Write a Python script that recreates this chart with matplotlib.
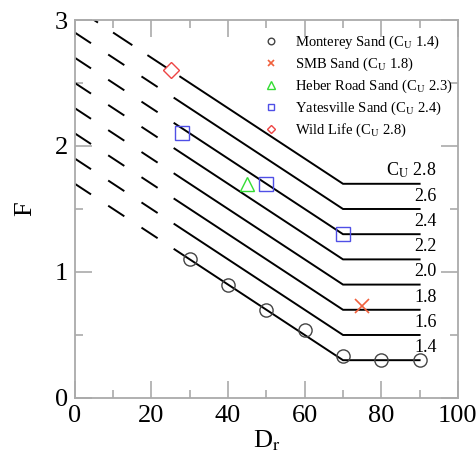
import matplotlib
matplotlib.use("Agg")
import matplotlib.pyplot as plt
import numpy as np

plt.rcParams["font.family"] = ["Liberation Serif", "DejaVu Serif"]
plt.rcParams["mathtext.fontset"] = "stix"
plt.rcParams["lines.scale_dashes"] = False

# design lines: F at Dr = 0, plateau F reached at Dr = 70, held to Dr = 90
cu_values = [1.4, 1.6, 1.8, 2.0, 2.2, 2.4, 2.6, 2.8]
f_at_zero = [1.7, 1.9, 2.1, 2.3, 2.5, 2.7, 2.9, 3.1]
f_plateau = [0.3, 0.5, 0.7, 0.9, 1.1, 1.3, 1.5, 1.7]
dr_knee = 70
dr_end = 90

# measured points
monterey_dr = [30, 40, 50, 60, 70, 80, 90]
monterey_f = [1.10, 0.90, 0.70, 0.54, 0.33, 0.30, 0.30]
smb_dr = [75]
smb_f = [0.73]
heber_dr = [45]
heber_f = [1.70]
yates_dr = [28, 50, 70]
yates_f = [2.10, 1.70, 1.30]
wild_dr = [25]
wild_f = [2.60]

# where the extrapolated (dashed) part of each line begins / turns solid
dash_from = [0, 0, 0, 0, 0, 0, 0, 1]
solid_from = [26, 26, 26, 26, 26, 26, 26, 27.5]
dash_style = [(0, (13.9, 14.8))] * 7 + [(0, (16.6, 13.0))]

fig = plt.figure(figsize=(4.77, 4.61), dpi=100)
ax = fig.add_axes([0.157, 0.1367, 0.803, 0.8199])

for i, cu in enumerate(cu_values):
    xs = [0, dr_knee, dr_end]
    ys = [f_at_zero[i], f_plateau[i], f_plateau[i]]
    x_d0, x_s0 = dash_from[i], solid_from[i]
    ax.plot([x_d0, x_s0], np.interp([x_d0, x_s0], xs, ys),
            color="black", lw=1.4, linestyle=dash_style[i], solid_capstyle="butt")
    ax.plot([x_s0, dr_knee, dr_end], [np.interp(x_s0, xs, ys), f_plateau[i], f_plateau[i]],
            color="black", lw=1.4, solid_joinstyle="miter")
    label = f"C$_\\mathrm{{U}}$ {cu:.1f}" if i == len(cu_values) - 1 else f"{cu:.1f}"
    ax.text(94.5, f_plateau[i] + 0.065, label, ha="right", va="baseline", fontsize=13)

ms = 9.5
ax.plot(monterey_dr, monterey_f, "o", ms=ms, mfc="none", mec="#444444", mew=1.0,
        label="Monterey Sand (C$_\\mathrm{U}$ 1.4)")
ax.plot(smb_dr, smb_f, "x", ms=ms, mec="#f0603c", mew=1.2,
        label="SMB Sand (C$_\\mathrm{U}$ 1.8)")
ax.plot(heber_dr, heber_f, "^", ms=ms + 1, mfc="none", mec="#33dd33", mew=1.0,
        label="Heber Road Sand (C$_\\mathrm{U}$ 2.3)")
ax.plot(yates_dr, yates_f, "s", ms=ms, mfc="none", mec="#4f4fe6", mew=1.0,
        label="Yatesville Sand (C$_\\mathrm{U}$ 2.4)")
ax.plot(wild_dr, wild_f, "D", ms=ms - 1, mfc="white", mec="#ee4444", mew=1.0,
        label="Wild Life (C$_\\mathrm{U}$ 2.8)")

ax.set_xlim(0, 100)
ax.set_ylim(0, 3)
ax.set_xticks(np.arange(0, 101, 20))
ax.set_xticks(np.arange(10, 100, 20), minor=True)
ax.set_yticks([0, 1, 2, 3])
ax.set_yticks([0.5, 1.5, 2.5], minor=True)

grey = "#aaaaaa"
for s in ax.spines.values():
    s.set_color(grey)
    s.set_linewidth(1.3)
ax.tick_params(which="both", direction="in", top=True, right=True,
               colors=grey, labelcolor="black", width=1.2)
ax.tick_params(which="major", length=12, labelsize=19, pad=5)
ax.tick_params(which="minor", length=6)

ax.set_xlabel("D$_\\mathrm{r}$", fontsize=19, labelpad=1)
ax.set_ylabel("F", fontsize=19, labelpad=13)

leg = ax.legend(loc="upper right", bbox_to_anchor=(1.013, 0.99), frameon=False,
                fontsize=10.5, markerscale=0.5, numpoints=1, handlelength=1.2,
                handletextpad=1.0, labelspacing=0.32, borderaxespad=0.3)

fig.savefig("out.png", dpi=100)
